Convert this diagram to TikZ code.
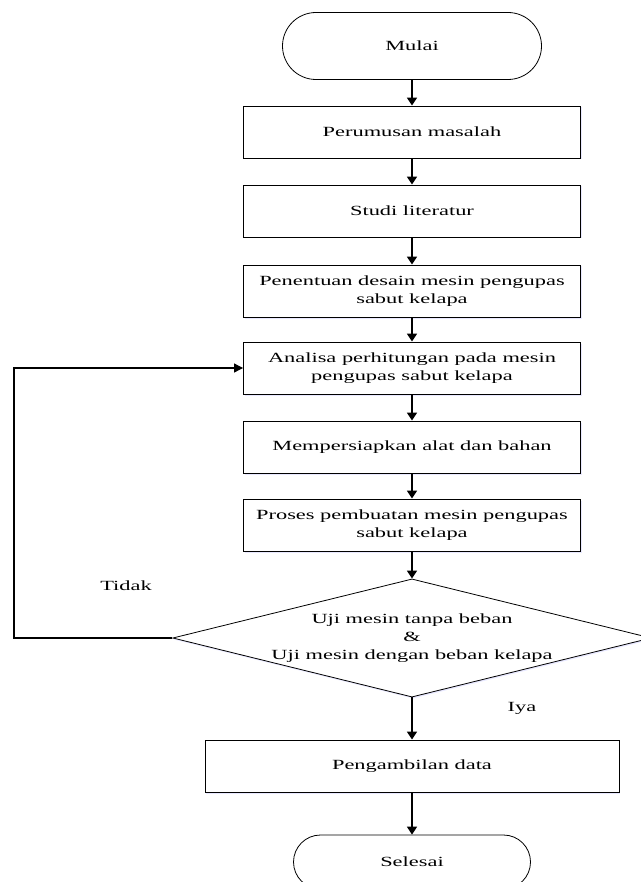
\documentclass[tikz,border=0pt]{standalone}
\usepackage{fontspec}
\setmainfont[FakeStretch=1.6]{Liberation Serif}
\usetikzlibrary{shapes.geometric,shapes.misc,arrows.meta,shadows}

\begin{document}
\begin{tikzpicture}[x=1pt,y=-1pt,
  font=\fontsize{14}{18}\selectfont,
  box/.style={rectangle, draw, line width=0.9pt, fill=white, align=center, inner sep=0pt,
    minimum width=337pt, minimum height=52pt,
    drop shadow={shadow xshift=1pt, shadow yshift=-1.5pt, fill=blue!30, opacity=0.3}},
  term/.style={rounded rectangle, draw, line width=0.8pt, fill=white, inner sep=0pt,
    minimum width=259pt, minimum height=67pt},
  decide/.style={diamond, draw, line width=0.8pt, fill=white, align=center, inner sep=0pt,
    aspect=4.05, minimum width=478pt, minimum height=118pt,
    drop shadow={shadow xshift=1pt, shadow yshift=-1.5pt, fill=blue!30, opacity=0.3}},
  flow/.style={line width=1.7pt, -{Triangle[width=10pt,length=8pt]}},
  back/.style={line width=1.1pt, -{Triangle[width=9pt,length=9pt]}}]
\useasboundingbox (0,0) rectangle (640,882);
\node[term] (blk0) at (412,46){Mulai};
\node[box] (blk1) at (412,132){Perumusan masalah};
\node[box] (blk2) at (412,211){Studi literatur};
\node[box] (blk3) at (412,291){Penentuan desain mesin pengupas\\sabut kelapa};
\node[box] (blk4) at (412,368){Analisa perhitungan pada mesin\\pengupas sabut kelapa};
\node[box] (blk5) at (412,447){Mempersiapkan alat dan bahan};
\node[box] (blk6) at (412,525){Proses pembuatan mesin pengupas\\sabut kelapa};
\node[decide] (blk7) at (412,638){Uji mesin tanpa beban\\\&\\Uji mesin dengan beban kelapa};
\node[box, minimum width=414pt] (blk8) at (412,766){Pengambilan data};
\node[term, minimum width=237pt, minimum height=54pt] (blk9) at (412,862){Selesai};
\node (tidak) at (126,586){Tidak};
\node (iya) at (522,708){Iya};
\coordinate (bend) at (14,638);
\draw[flow] (blk0) -- (blk1);
\draw[flow] (blk1) -- (blk2);
\draw[flow] (blk2) -- (blk3);
\draw[flow] (blk3) -- (blk4);
\draw[flow] (blk4) -- (blk5);
\draw[flow] (blk5) -- (blk6);
\draw[flow] (blk6) -- (blk7);
\draw[flow] (blk7) -- (blk8);
\draw[flow] (blk8) -- (blk9);
\draw[back] (blk7.west) -- (bend) |- (blk4.west);
\end{tikzpicture}
\end{document}
